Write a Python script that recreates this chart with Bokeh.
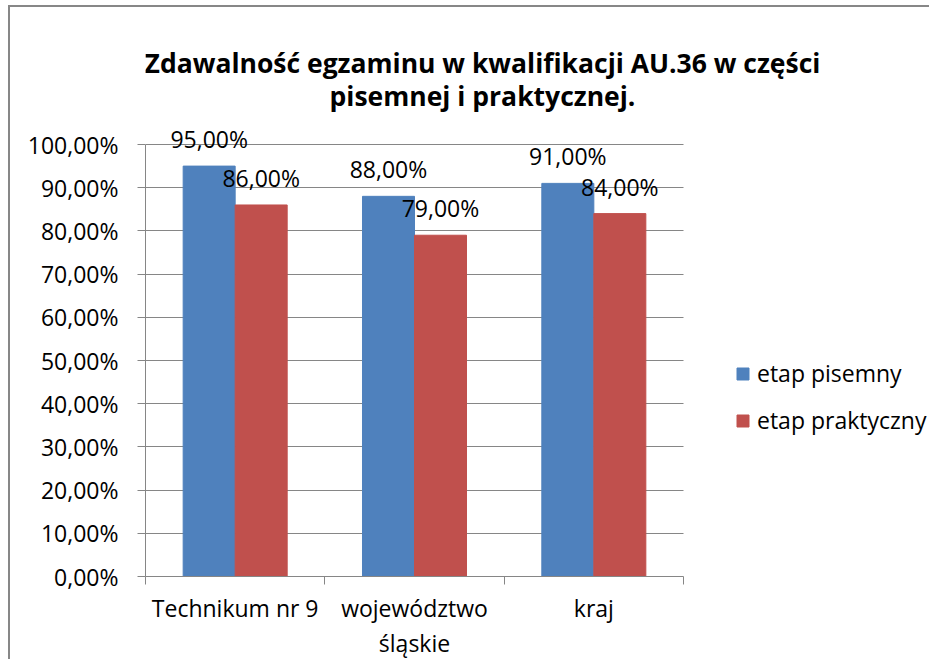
from bokeh.plotting import figure
from bokeh.models import (ColumnDataSource, FixedTicker, LinearAxis, Range1d, Grid,
                          Label, LabelSet, Legend, LegendItem)
from bokeh.core.properties import value
from bokeh.transform import dodge
from bokeh.embed import file_html
from bokeh.resources import INLINE

# ---- data ----
categories = ["Technikum nr 9", "województwo\nśląskie", "kraj"]
pisemny = [0.95, 0.88, 0.91]
praktyczny = [0.86, 0.79, 0.84]
pisemny_labels = ["95,00%", "88,00%", "91,00%"]
praktyczny_labels = ["86,00%", "79,00%", "84,00%"]
y_ticks = [0.0, 0.1, 0.2, 0.3, 0.4, 0.5, 0.6, 0.7, 0.8, 0.9, 1.0]
y_tick_labels = ["0,00%", "10,00%", "20,00%", "30,00%", "40,00%", "50,00%",
                 "60,00%", "70,00%", "80,00%", "90,00%", "100,00%"]
series_names = ["etap pisemny", "etap praktyczny"]
title_lines = ["Zdawalność egzaminu w kwalifikacji AU.36 w części",
               "pisemnej i praktycznej."]

FONT = "Open Sans"
BLUE = "#4F81BD"
RED = "#C0504D"
GRID = "#868686"

# ---- layout constants (pixels) ----
W, H = 921, 654
LEFT, BOTTOM = 135, 85
PX_PER_CAT = 538 / 3.0
PX_PER_UNIT = 432.0
frame_w = W - LEFT
frame_h = H - BOTTOM

ncat = len(categories)
centers = [i + 0.5 for i in range(ncat)]
src = ColumnDataSource(dict(x=centers, pis=pisemny, prak=praktyczny,
                            pis_l=pisemny_labels, prak_l=praktyczny_labels))

p = figure(width=W, height=H, output_backend="svg", toolbar_location=None,
           x_range=Range1d(0, frame_w / PX_PER_CAT),
           y_range=Range1d(0, frame_h / PX_PER_UNIT),
           min_border_left=LEFT, min_border_right=0, min_border_top=0,
           min_border_bottom=BOTTOM, x_axis_type=None, y_axis_type=None)
p.styles = {"border-top": "2px solid #878787", "border-left": "2px solid #878787",
            "transform": "translate(8px, 5px)", "vertical-align": "top",
            "margin-bottom": "-30px"}
p.outline_line_color = None
p.background_fill_color = "white"
p.border_fill_color = "white"

# y axis
yax = LinearAxis(ticker=FixedTicker(ticks=y_ticks), bounds=(0, 1),
                 major_label_overrides={t: l for t, l in zip(y_ticks, y_tick_labels)})
yax.axis_line_color = GRID
yax.major_tick_line_color = GRID
yax.major_tick_out = 8
yax.major_tick_in = 0
yax.minor_tick_line_color = None
yax.major_label_text_font = FONT
yax.major_label_text_font_size = "23px"
yax.major_label_text_color = "black"
yax.major_label_standoff = 19
p.add_layout(yax, "left")

# x axis
xax = LinearAxis(ticker=FixedTicker(ticks=centers, minor_ticks=list(range(ncat + 1))),
                 bounds=(0, ncat),
                 major_label_overrides={c: l for c, l in zip(centers, categories)})
xax.axis_line_color = GRID
xax.major_tick_line_color = None
xax.major_tick_out = 0
xax.major_tick_in = 0
xax.minor_tick_line_color = GRID
xax.minor_tick_out = 8
xax.minor_tick_in = 0
xax.major_label_text_font = FONT
xax.major_label_text_font_size = "23px"
xax.major_label_text_color = "black"
xax.major_label_text_line_height = 1.1
xax.major_label_standoff = 7
p.add_layout(xax, "below")

if "cross_bounds" in Grid.properties():
    g = Grid(dimension=1, ticker=FixedTicker(ticks=y_ticks[1:]), grid_line_color=GRID,
             cross_bounds=(0, ncat))
    p.add_layout(g, "center")
else:
    gsrc = ColumnDataSource(dict(y=y_ticks[1:], x0=[0] * (len(y_ticks) - 1),
                                 x1=[ncat] * (len(y_ticks) - 1)))
    p.segment(x0="x0", x1="x1", y0="y", y1="y", source=gsrc, line_color=GRID,
              line_width=1, level="underlay")

bw = 0.29
r1 = p.vbar(x=dodge("x", -bw / 2, range=p.x_range), top="pis", width=bw, bottom=0,
            source=src, fill_color=BLUE, line_color=BLUE)
r2 = p.vbar(x=dodge("x", bw / 2, range=p.x_range), top="prak", width=bw, bottom=0,
            source=src, fill_color=RED, line_color=RED)

for xoff, yfield, tfield in [(-bw / 2, "pis", "pis_l"), (bw / 2, "prak", "prak_l")]:
    ls = LabelSet(x=dodge("x", xoff, range=p.x_range), y=yfield, text=tfield, source=src,
                  y_offset=18, text_align="center", text_baseline="alphabetic",
                  text_font=value(FONT), text_font_size=value("23px"),
                  text_color=value("black"))
    p.add_layout(ls)

# title (inside the frame area, screen units from frame bottom-left)
for txt, ty in zip(title_lines, [514, 481]):
    p.add_layout(Label(x=337, y=ty, x_units="screen", y_units="screen", text=txt,
                       text_align="center", text_baseline="alphabetic",
                       text_font=FONT, text_font_size="26.5px", text_font_style="bold",
                       text_color="black"))

legend = Legend(items=[LegendItem(label=series_names[0], renderers=[r1]),
                       LegendItem(label=series_names[1], renderers=[r2])],
                location=(590, 140), orientation="vertical")
legend.padding = 0
legend.margin = 0
legend.spacing = 15
legend.glyph_width = 15
legend.glyph_height = 15
legend.label_standoff = 7
legend.border_line_color = None
legend.background_fill_alpha = 0
legend.label_text_font = FONT
legend.label_text_font_size = "23px"
legend.label_text_color = "black"
legend.label_text_baseline = "middle"
p.add_layout(legend, "center")

open("out.html", "w").write(file_html(p, INLINE))
